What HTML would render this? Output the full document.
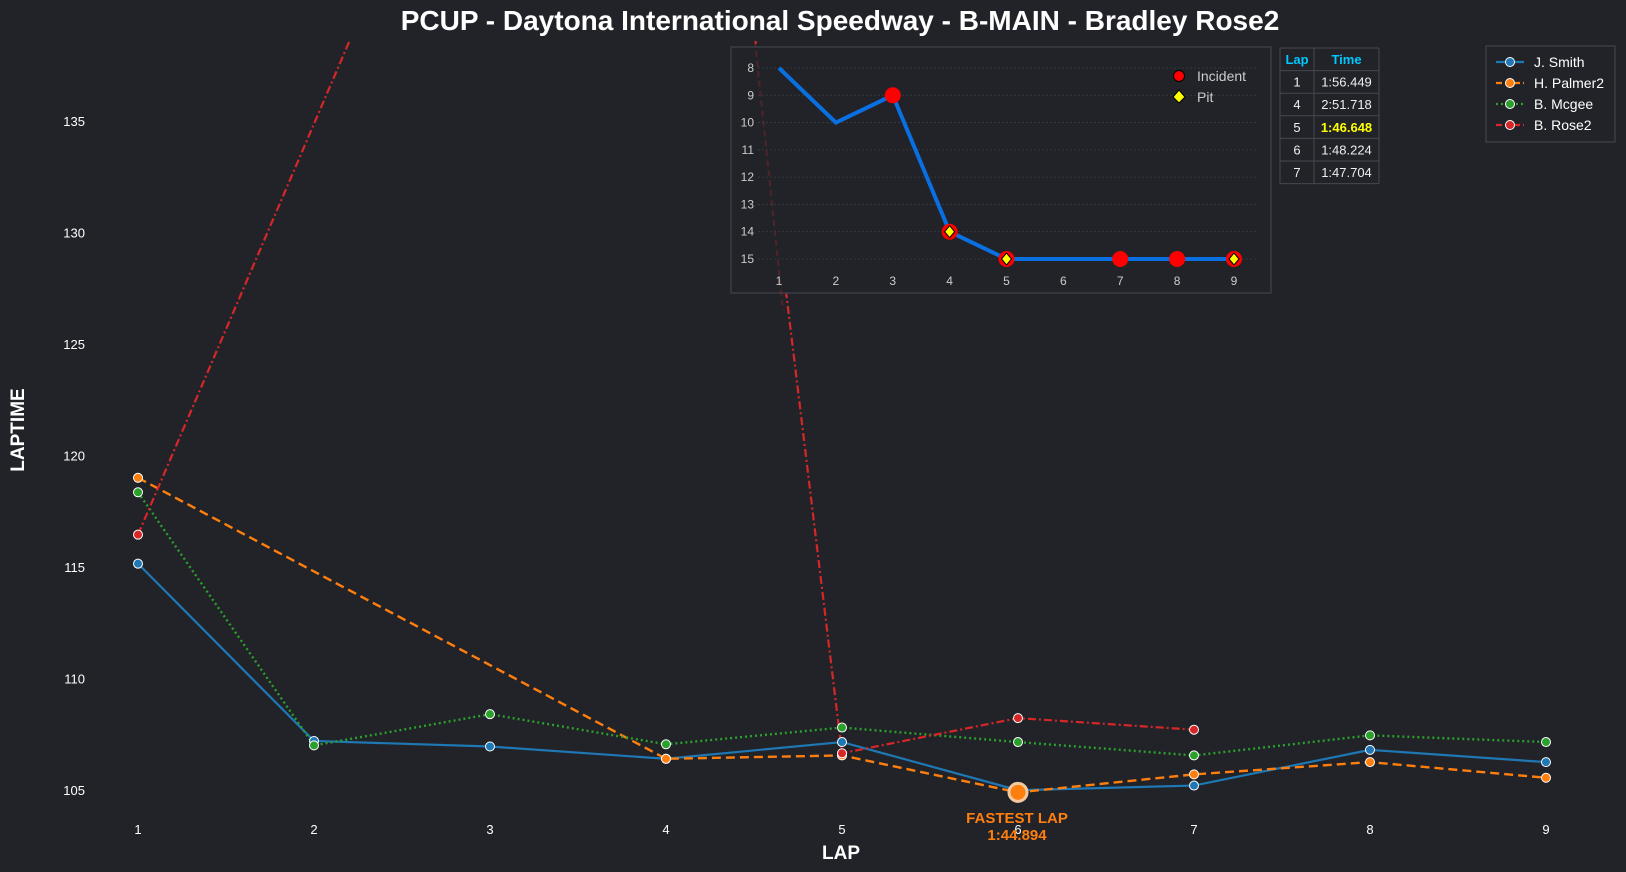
<!DOCTYPE html>
<html><head><meta charset="utf-8"><style>
body{margin:0;background:#212328;}
svg{display:block;font-family:"Liberation Sans",sans-serif;}
</style></head><body>
<svg id="c" width="1626" height="872" viewBox="0 0 1626 872">
<rect width="1626" height="872" fill="#212328"/>
<text x="840" y="30" text-anchor="middle" fill="#fff" font-size="28" font-weight="bold">PCUP - Daytona International Speedway - B-MAIN - Bradley Rose2</text>
<text x="841" y="859" text-anchor="middle" fill="#fff" font-size="19" font-weight="bold">LAP</text>
<text transform="translate(24,430) rotate(-90)" text-anchor="middle" fill="#fff" font-size="19" font-weight="bold">LAPTIME</text>
<defs><clipPath id="pc"><rect x="60" y="41" width="1560" height="780"/></clipPath></defs>
<g id="ticks"></g>
<g id="series" clip-path="url(#pc)"></g>
<g id="anno"></g>
<g id="inset"></g>
<g id="table"></g>
<g id="legend"></g>
</svg>
<script>
const laps=[1,2,3,4,5,6,7,8,9];
const yTicks=[105,110,115,120,125,130,135];
const smith=[115.15,107.2,106.95,106.4,107.15,104.99,105.2,106.8,106.25];
const palmer=[119.0,null,null,106.4,106.55,104.894,105.7,106.25,105.55];
const mcgee=[118.35,107.0,108.4,107.05,107.8,107.15,106.55,107.45,107.15];
const rose=[116.449,null,null,171.718,106.648,108.224,107.704,null,null];
const seriesNames=["J. Smith","H. Palmer2","B. Mcgee","B. Rose2"];
const insetPos=[8,10,9,14,15,15,15,15,15];
const insetIncidents=[3,4,5,7,8,9];
const insetPits=[4,5,9];
const insetYTicks=[8,9,10,11,12,13,14,15];
const tableLaps=["1","4","5","6","7"];
const tableTimes=["1:56.449","2:51.718","1:46.648","1:48.224","1:47.704"];
const fastestLap=6, fastestVal=104.894, fastestLabel="1:44.894";

const NS="http://www.w3.org/2000/svg";
function mk(parent,tag,attrs){const e=document.createElementNS(NS,tag);for(const k in attrs)e.setAttribute(k,attrs[k]);parent.appendChild(e);return e;}
const X=l=>138+(l-1)*176;
const Y=v=>790-(v-105)*22.3;

const tk=document.getElementById('ticks');
laps.forEach(l=>{const t=mk(tk,'text',{x:X(l),y:834,'text-anchor':'middle',fill:'#fff','font-size':13});t.textContent=l;

});
yTicks.forEach(v=>{const t=mk(tk,'text',{x:85,y:Y(v)+5,'text-anchor':'end',fill:'#fff','font-size':13});t.textContent=v;

});

const colors=["#1f77b4","#ff7f0e","#2ca02c","#d62728"];
const dashes=["none","9,5","2,3","8,3,2,3"];
const widths=[2.2,2.4,2.4,2.2];
const data=[smith,palmer,mcgee,rose];
const sg=document.getElementById('series');
data.forEach((arr,i)=>{
 const pts=[];arr.forEach((v,j)=>{if(v!==null)pts.push(X(laps[j])+','+Y(v));});
 const p=mk(sg,'polyline',{points:pts.join(' '),fill:'none',stroke:colors[i],'stroke-width':widths[i],'stroke-dasharray':dashes[i]});
 
 
});
data.forEach((arr,i)=>{arr.forEach((v,j)=>{if(v===null)return;
 const c=mk(sg,'circle',{cx:X(laps[j]),cy:Y(v),r:4.5,fill:colors[i],stroke:'#fff','stroke-width':1});
 
 });});

const an=document.getElementById('anno');
const fm=mk(an,'circle',{cx:X(fastestLap),cy:Y(fastestVal),r:9,fill:'#ff7f0e',stroke:'#f3c9a0','stroke-width':3});


const f1=mk(an,'text',{x:1017,y:823,'text-anchor':'middle',fill:'#ff7f0e','font-size':15,'font-weight':'bold'});f1.textContent="FASTEST LAP";


const f2=mk(an,'text',{x:1017,y:840,'text-anchor':'middle',fill:'#ff7f0e','font-size':15,'font-weight':'bold'});f2.textContent=fastestLabel;



// inset
const ig=document.getElementById('inset');
const IX=l=>779+(l-1)*(1234-779)/8;
const IY=p=>68+(p-8)*(259-68)/7;
const ib=mk(ig,'rect',{x:731,y:47,width:540,height:246,fill:'#212328',stroke:'#3a3d42','stroke-width':1.5});


mk(ig,'line',{x1:755,y1:41,x2:783,y2:310,stroke:'#d62728','stroke-width':2,'stroke-dasharray':'6,4',opacity:0.25});
insetYTicks.forEach(p=>{mk(ig,'line',{x1:758,x2:1257,y1:IY(p),y2:IY(p),stroke:'#3a3d42','stroke-width':0.8,'stroke-dasharray':'2,2'});
 const t=mk(ig,'text',{x:754,y:IY(p)+4,'text-anchor':'end',fill:'#ccc','font-size':12});t.textContent=p;
 
 });
laps.forEach(l=>{const t=mk(ig,'text',{x:IX(l),y:285,'text-anchor':'middle',fill:'#ccc','font-size':12});t.textContent=l;
 
 });
const ipl=mk(ig,'polyline',{points:insetPos.map((p,j)=>IX(laps[j])+','+IY(p)).join(' '),fill:'none',stroke:'#0a6fe0','stroke-width':4});


insetIncidents.forEach(l=>{const c=mk(ig,'circle',{cx:IX(l),cy:IY(insetPos[l-1]),r:8,fill:'#f00'});
 
 });
insetPits.forEach(l=>{const x=IX(l),y=IY(insetPos[l-1]);const d=mk(ig,'polygon',{points:`${x},${y-6} ${x+5},${y} ${x},${y+6} ${x-5},${y}`,fill:'#ff0',stroke:'#000','stroke-width':1});
 
 });
mk(ig,'circle',{cx:1179,cy:76,r:5.5,fill:'#f00',stroke:'#000','stroke-width':1});
const li=mk(ig,'text',{x:1197,y:81,fill:'#ccc','font-size':14});li.textContent="Incident";


mk(ig,'polygon',{points:'1179,90 1185,97 1179,103 1173,97',fill:'#ff0',stroke:'#000','stroke-width':1});
const lp=mk(ig,'text',{x:1197,y:102,fill:'#ccc','font-size':14});lp.textContent="Pit";



// table
const tg=document.getElementById('table');
const rowH=22.6,tx0=1280,tx1=1314,tx2=1379,ty0=48;
const hd=[["Lap",(tx0+tx1)/2],["Time",(tx1+tx2)/2]];
hd.forEach(h=>{const t=mk(tg,'text',{x:h[1],y:ty0+16,'text-anchor':'middle',fill:'#00c8ff','font-size':13,'font-weight':'bold'});t.textContent=h[0];
 
 });
for(let r=0;r<=tableLaps.length+1;r++)mk(tg,'line',{x1:tx0,x2:tx2,y1:ty0+r*rowH,y2:ty0+r*rowH,stroke:'#45484d'});
[tx0,tx1,tx2].forEach(x=>mk(tg,'line',{x1:x,x2:x,y1:ty0,y2:ty0+rowH*(tableLaps.length+1),stroke:'#45484d'}));
tableLaps.forEach((l,i)=>{const y=ty0+(i+1)*rowH+16;const best=i===2;
 const a=mk(tg,'text',{x:(tx0+tx1)/2,y:y,'text-anchor':'middle',fill:'#eee','font-size':13});a.textContent=l;
 
 
 const b=mk(tg,'text',{x:(tx1+tx2)/2,y:y,'text-anchor':'middle',fill:best?'#ffff00':'#eee','font-size':13,'font-weight':best?'bold':'normal'});b.textContent=tableTimes[i];
 
 });

// legend
const lg=document.getElementById('legend');
const lb=mk(lg,'rect',{x:1486,y:46,width:129,height:96,fill:'#212328',stroke:'#45484d','stroke-width':1});


seriesNames.forEach((n,i)=>{const y=62+i*21;
 mk(lg,'line',{x1:1496,x2:1524,y1:y,y2:y,stroke:colors[i],'stroke-width':2.2,'stroke-dasharray':dashes[i]==='none'?'none':(i===2?'2,3':'6,3')});
 mk(lg,'circle',{cx:1510,cy:y,r:4.5,fill:colors[i],stroke:'#fff','stroke-width':1});
 const t=mk(lg,'text',{x:1534,y:y+5,fill:'#fff','font-size':14});t.textContent=n;
 
 });
</script>
</body></html>
